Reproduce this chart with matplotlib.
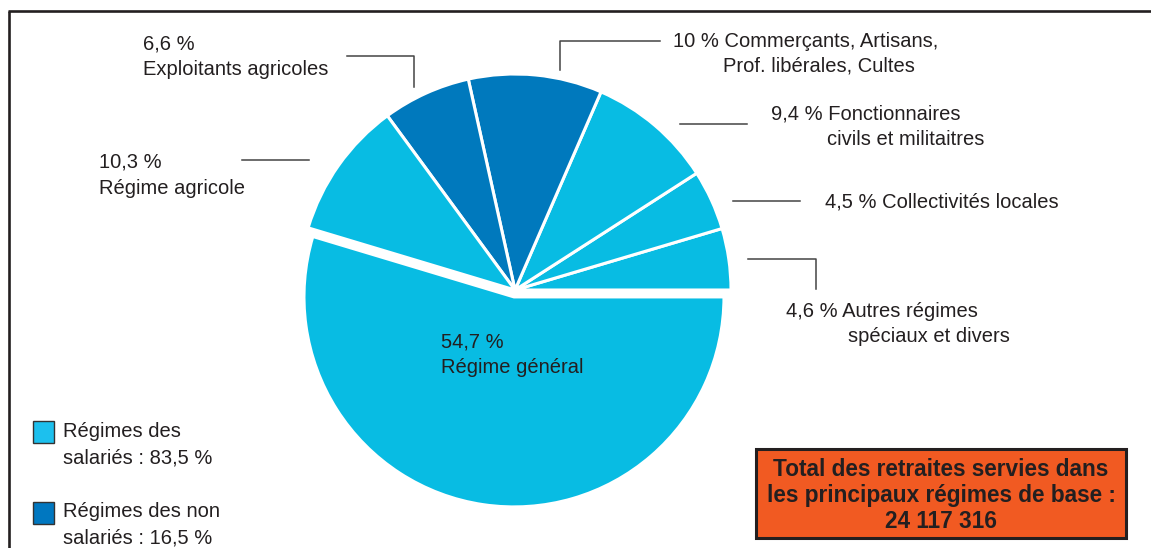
import matplotlib
matplotlib.use('Agg')
import matplotlib.pyplot as plt
from matplotlib.patches import Rectangle

plt.rcParams['font.family'] = ['Liberation Sans', 'DejaVu Sans']

# Parts of pensions paid (%), counter-clockwise from 3 o'clock
regimes = ['Autres régimes spéciaux et divers', 'Collectivités locales',
           'Fonctionnaires civils et militaires', 'Commerçants, Artisans, Prof. libérales, Cultes',
           'Exploitants agricoles', 'Régime agricole', 'Régime général']
parts = [4.6, 4.5, 9.4, 10, 6.6, 10.3, 54.7]
salaries = [True, True, True, False, False, True, True]

share_salaries = '83,5 %'
share_non_salaries = '16,5 %'
total_retraites = '24 117 316'

light = '#08BCE3'
dark = '#0079BD'
ink = '#231F20'

W, H = 1151, 548
fig = plt.figure(figsize=(W / 100, H / 100), dpi=100)
ax = fig.add_axes([0, 0, 1, 1])

# y axis goes downwards (pixel style), so pie must run clockwise in data terms
cols = [light if s else dark for s in salaries]
explode = [0, 0, 0, 0, 0, 0, 7]   # in data units (pixels) here
wedges, _ = ax.pie(parts, colors=cols, startangle=0, counterclock=False,
                   center=(515, 290), radius=216, explode=explode,
                   wedgeprops=dict(edgecolor='white', linewidth=2.2))
wedges[-1].set_radius(210)

ax.set_xlim(0, W)
ax.set_ylim(H, 0)
ax.set_aspect('auto')
ax.axis('off')

# outer frame (top and left only)
ax.plot([8, W], [11, 11], color=ink, lw=1.9, solid_capstyle='butt')
ax.plot([9, 9], [11, H], color=ink, lw=1.9, solid_capstyle='butt')

fs = 14.5

def txt(x, y, s, **kw):
    ax.text(x, y, s, fontsize=fs, color=ink, va='baseline', ha='left', **kw)

# labels
txt(143, 49, '6,6 %')
txt(143, 75, 'Exploitants agricoles')
txt(99, 168, '10,3 %')
txt(99, 194, 'Régime agricole')
txt(673, 47, '10 % Commerçants, Artisans,')
txt(723, 72, 'Prof. libérales, Cultes')
txt(771, 120, '9,4 % Fonctionnaires')
txt(827, 145, 'civils et militaitres')
txt(825, 207, '4,5 % Collectivités locales')
txt(786, 317, '4,6 % Autres régimes')
txt(848, 342, 'spéciaux et divers')
txt(441, 347, '54,7 %')
txt(441, 373, 'Régime général')

# leader lines
lk = dict(color='#444444', lw=1.1)
ax.plot([347, 414, 414], [56, 56, 87], **lk)
ax.plot([560, 560, 660], [70, 41, 41], **lk)
ax.plot([680, 747], [124, 124], **lk)
ax.plot([242, 309], [160, 160], **lk)
ax.plot([733, 800], [201, 201], **lk)
ax.plot([748, 816, 816], [259, 259, 289], **lk)

# legend
ax.add_patch(Rectangle((33, 421), 21, 22, facecolor='#1CC0EE', edgecolor='#333333', lw=1))
ax.add_patch(Rectangle((33, 502), 21, 22, facecolor='#0077C0', edgecolor='#333333', lw=1))
txt(63, 437, 'Régimes des')
txt(63, 463, 'salariés : ' + share_salaries)
txt(63, 517, 'Régimes des non')
txt(63, 543, 'salariés : ' + share_non_salaries)

# total box
ax.add_patch(Rectangle((756, 449), 370, 89, facecolor='#F15A22', edgecolor=ink, lw=2.2))
bx = 941
for yb, s in [(476, 'Total des retraites servies dans'),
              (502, 'les principaux régimes de base :'),
              (528, total_retraites)]:
    ax.text(bx, yb, s, fontsize=16.3, fontweight='bold', color=ink,
            ha='center', va='baseline')

fig.savefig('out.png', dpi=100, facecolor='white')
